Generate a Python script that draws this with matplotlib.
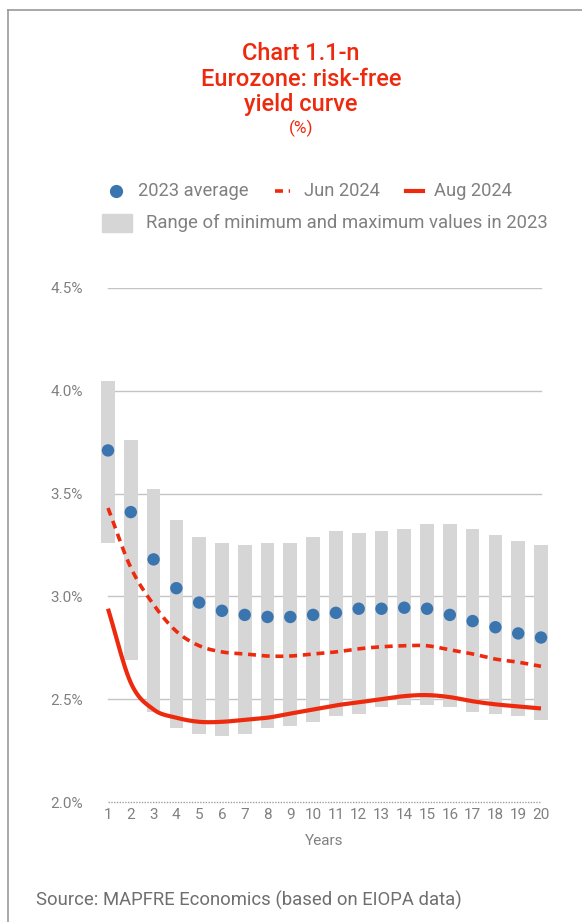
import numpy as np
import matplotlib.pyplot as plt
from matplotlib.lines import Line2D
from matplotlib.patches import Rectangle

plt.rcParams['font.family'] = ['Roboto', 'DejaVu Sans']

years = list(range(1, 21))
range_max = [4.05, 3.76, 3.52, 3.37, 3.29, 3.26, 3.25, 3.26, 3.26, 3.29,
             3.32, 3.31, 3.32, 3.33, 3.35, 3.35, 3.33, 3.30, 3.27, 3.25]
range_min = [3.26, 2.69, 2.44, 2.36, 2.33, 2.32, 2.33, 2.36, 2.37, 2.39,
             2.42, 2.43, 2.46, 2.47, 2.47, 2.46, 2.44, 2.43, 2.42, 2.40]
avg_2023 = [3.71, 3.41, 3.18, 3.04, 2.97, 2.93, 2.91, 2.90, 2.90, 2.91,
            2.92, 2.94, 2.94, 2.945, 2.94, 2.91, 2.88, 2.85, 2.82, 2.80]
jun_2024 = [3.43, 3.14, 2.96, 2.83, 2.76, 2.73, 2.72, 2.71, 2.71, 2.72,
            2.73, 2.745, 2.755, 2.76, 2.76, 2.74, 2.72, 2.695, 2.68, 2.66]
aug_2024 = [2.94, 2.58, 2.45, 2.41, 2.39, 2.39, 2.40, 2.41, 2.43, 2.45,
            2.47, 2.485, 2.50, 2.515, 2.52, 2.51, 2.49, 2.475, 2.465, 2.455]
y_ticks = [2.0, 2.5, 3.0, 3.5, 4.0, 4.5]

RED = '#ee2a0e'
BLUE = '#3a75b0'
BAR = '#d6d6d6'
GRID = '#c4c4c4'
TXT = '#808080'


def smooth(x, y, n=12):
    # catmull-rom through the points, like a spreadsheet "smoothed line"
    x = np.asarray(x, float)
    y = np.asarray(y, float)
    px = np.concatenate([[2 * x[0] - x[1]], x, [2 * x[-1] - x[-2]]])
    py = np.concatenate([[2 * y[0] - y[1]], y, [2 * y[-1] - y[-2]]])
    t = np.linspace(0, 1, n, endpoint=False)
    xs, ys = [], []
    for i in range(1, len(px) - 2):
        for p, out in ((px, xs), (py, ys)):
            p0, p1, p2, p3 = p[i - 1], p[i], p[i + 1], p[i + 2]
            out.extend(0.5 * (2 * p1 + (-p0 + p2) * t
                              + (2 * p0 - 5 * p1 + 4 * p2 - p3) * t ** 2
                              + (-p0 + 3 * p1 - 3 * p2 + p3) * t ** 3))
    xs.append(x[-1])
    ys.append(y[-1])
    return np.array(xs), np.array(ys)


fig = plt.figure(figsize=(5.82, 9.22), dpi=100)

# frame on the left and top
fig.add_artist(Line2D([8 / 582, 8 / 582], [0, 1 - 10 / 922], color='#9a9a9a', lw=1.2))
fig.add_artist(Line2D([8 / 582, 1], [1 - 10 / 922, 1 - 10 / 922], color='#9a9a9a', lw=1.2))

# title
for txt, y in (('Chart 1.1-n', 53), ('Eurozone: risk-free', 79), ('yield curve', 104)):
    fig.text(301 / 582, 1 - y / 922, txt, color=RED, fontsize=17, weight='medium',
             ha='center', va='center')
fig.text(301 / 582, 1 - 128 / 922, '(%)', color=RED, fontsize=12.5, ha='center', va='center')

ax = fig.add_axes([96.6 / 582, 120 / 922, (552.4 - 96.6) / 582, 514 / 922])
ax.set_xlim(0.5, 20.5)
ax.set_ylim(2.0, 4.5)

for v in y_ticks[1:]:
    ax.plot([1, 20], [v, v], color=GRID, lw=1, zorder=0)
ax.plot([1, 20], [2.0, 2.0], color='#a0a0a0', lw=1, ls=(0, (1, 1)), zorder=0, clip_on=False)

ax.bar(years, np.array(range_max) - np.array(range_min), bottom=range_min,
       width=0.6, color=BAR, zorder=1)
ax.scatter(years, avg_2023, s=80, color=BLUE, zorder=4, edgecolors='none')
sx, sy = smooth(years, jun_2024)
ax.plot(sx, sy, color=RED, lw=2.6, ls=(0, (2.2, 1.6)), zorder=3)
sx, sy = smooth(years, aug_2024)
ax.plot(sx, sy, color=RED, lw=3, zorder=3, solid_capstyle='butt')

for s in ax.spines.values():
    s.set_visible(False)
ax.set_xticks(years)
ax.set_xticklabels([str(y) for y in years])
ax.set_yticks(y_ticks)
ax.set_yticklabels([f'{v:.1f}%' for v in y_ticks])
ax.tick_params(length=0, colors=TXT, labelsize=11)
ax.tick_params(axis='y', pad=10)
ax.tick_params(axis='x', pad=4)
ax.set_xlabel('Years', color=TXT, fontsize=11, labelpad=9)

# legend
ly1 = 1 - 191 / 922
ly2 = 1 - 223 / 922
fig.add_artist(Line2D([116 / 582], [ly1], marker='o', ms=9.5, color=BLUE, mec='none'))
fig.text(138 / 582, ly1, '2023 average', color=TXT, fontsize=13.2, va='center')
fig.add_artist(Line2D([275 / 582, 290 / 582], [ly1, ly1], color=RED, lw=2.6, ls=(0, (2.2, 1.6))))
fig.text(304 / 582, ly1, 'Jun 2024', color=TXT, fontsize=13.2, va='center')
fig.add_artist(Line2D([406 / 582, 423 / 582], [ly1, ly1], color=RED, lw=3))
fig.text(434 / 582, ly1, 'Aug 2024', color=TXT, fontsize=13.2, va='center')
fig.add_artist(Rectangle((102 / 582, ly2 - 9 / 922), 30 / 582, 18 / 922, color=BAR))
fig.text(146 / 582, ly2, 'Range of minimum and maximum values in 2023', color=TXT,
         fontsize=13.3, va='center')

fig.text(36 / 582, 1 - 900 / 922, 'Source: MAPFRE Economics (based on EIOPA data)',
         color='#6f6f6f', fontsize=13.3, va='center')

fig.savefig('out.png', dpi=100)
